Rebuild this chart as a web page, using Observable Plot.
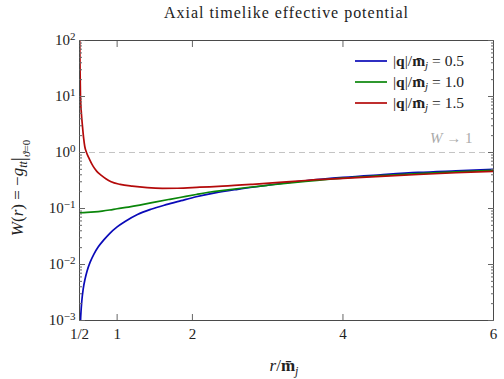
<!DOCTYPE html>
<html>
<head>
<meta charset="utf-8">
<script src="https://cdn.jsdelivr.net/npm/d3@7"></script>
<script src="https://cdn.jsdelivr.net/npm/@observablehq/plot@0.6"></script>
<style>
  body { margin: 0; background: #fff; }
  svg text { font-family: "Liberation Serif", "DejaVu Serif", serif; }
</style>
</head>
<body>
<div id="chart"></div>
<script>
// ---- data ----
const seriesNames = ["0.5", "1.0", "1.5"];
const seriesColors = ["#0a0ab8", "#0a860a", "#b40a0a"];

const rBlue = [0.507, 0.514, 0.52, 0.53, 0.55, 0.575, 0.6, 0.64, 0.69, 0.75, 0.82, 0.9, 1.0, 1.1, 1.27, 1.45, 1.65, 1.85, 2.05, 2.3, 2.6, 3.0, 3.5, 4.0, 4.5, 5.0, 5.5, 6.0];
const wBlue = [0.0005, 0.00101, 0.00145, 0.00218, 0.00371, 0.0056, 0.0076, 0.0109, 0.0152, 0.0207, 0.0272, 0.0357, 0.047, 0.058, 0.078, 0.097, 0.117, 0.138, 0.162, 0.19, 0.22, 0.26, 0.313, 0.36, 0.40, 0.44, 0.47, 0.50];

const rGreen = [0.5, 0.6, 0.7, 0.8, 0.9, 1.0, 1.15, 1.3, 1.5, 1.7, 1.85, 2.05, 2.24, 2.36, 2.7, 3.0, 3.5, 4.0, 4.5, 5.0, 5.5, 6.0];
const wGreen = [0.084, 0.085, 0.087, 0.090, 0.094, 0.099, 0.106, 0.115, 0.13, 0.146, 0.159, 0.178, 0.197, 0.207, 0.235, 0.26, 0.305, 0.35, 0.385, 0.42, 0.45, 0.48];

const rRed = [0.503, 0.507, 0.513, 0.525, 0.54, 0.555, 0.57, 0.593, 0.63, 0.68, 0.73, 0.79, 0.85, 0.92, 1.04, 1.2, 1.4, 1.6, 1.8, 2.1, 2.4, 2.8, 3.2, 3.5, 4.0, 4.5, 5.0, 5.5, 6.0];
const wRed = [100, 35, 10, 5, 2.9, 1.8, 1.28, 1.0, 0.77, 0.57, 0.46, 0.39, 0.34, 0.30, 0.27, 0.25, 0.235, 0.229, 0.23, 0.24, 0.25, 0.27, 0.295, 0.316, 0.345, 0.375, 0.405, 0.435, 0.46];

const xTickValues = [0.5, 1, 2, 4, 6];
const xTickLabels = ["1/2", "1", "2", "4", "6"];
const xInnerTicks = [1, 2, 4];
const yDecades = [1e-3, 1e-2, 1e-1, 1e0, 1e1, 1e2];
const yDecadeLabels = ["10^-3", "10^-2", "10^-1", "10^0", "10^1", "10^2"];
const asymptote = [1];
const annoX = [5.72], annoY = [1.8], annoText = ["W → 1"];

// ---- build ----
const rows = [];
[[rBlue, wBlue], [rGreen, wGreen], [rRed, wRed]].forEach(([rs, ws], i) => {
  rs.forEach((r, j) => rows.push({r, w: ws[j], s: seriesNames[i]}));
});
const yMinor = [];
for (let e = -3; e < 2; e++) for (let k = 2; k <= 9; k++) yMinor.push(k * Math.pow(10, e));
const blank = () => "";

const plot = Plot.plot({
  width: 504, height: 379,
  marginTop: 40, marginBottom: 59, marginLeft: 79, marginRight: 11,
  style: {fontFamily: '"Liberation Serif", "DejaVu Serif", serif', fontSize: "15px", background: "#fff"},
  x: {domain: [0.5, 6]},
  y: {type: "log", domain: [1e-3, 1e2]},
  color: {domain: seriesNames, range: seriesColors},
  marks: [
    Plot.ruleY(asymptote, {stroke: "#c4c4c4", strokeWidth: 1.2, strokeDasharray: "6,4"}),
    Plot.text(annoText, {x: annoX, y: annoY, text: d => d, textAnchor: "end", fill: "#aaa", fontSize: 15}),
    Plot.line(rows, {x: "r", y: "w", z: "s", stroke: "s", strokeWidth: 1.7, curve: "monotone-x", clip: true}),
    Plot.frame({stroke: "#4a4a4a", strokeWidth: 1}),
    // tick labels
    Plot.axisY(yDecades, {anchor: "left", tickSize: 0, tickPadding: 4, label: null, fill: "#222",
      tickFormat: d => yDecadeLabels[yDecades.indexOf(d)]}),
    Plot.axisX(xTickValues, {anchor: "bottom", tickSize: 0, tickPadding: 8, label: null, fill: "#222",
      tickFormat: d => xTickLabels[xTickValues.indexOf(d)]}),
    // inward ticks
    Plot.axisY(yDecades, {anchor: "left", tickSize: -6, tickFormat: blank, label: null, stroke: "#666"}),
    Plot.axisY(yMinor, {anchor: "left", tickSize: -3, tickFormat: blank, label: null, stroke: "#666"}),
    Plot.axisY(yDecades, {anchor: "right", tickSize: -6, tickFormat: blank, label: null, stroke: "#666"}),
    Plot.axisY(yMinor, {anchor: "right", tickSize: -3, tickFormat: blank, label: null, stroke: "#666"}),
    Plot.axisX(xInnerTicks, {anchor: "bottom", tickSize: -6, tickFormat: blank, label: null, stroke: "#666"}),
    Plot.axisX(xInnerTicks, {anchor: "top", tickSize: -6, tickFormat: blank, label: null, stroke: "#666"})
  ]
});

document.getElementById("chart").appendChild(plot);
const svg = d3.select(plot);

// superscripts on decade labels, italic W in annotation
svg.selectAll("text").each(function() {
  const t = this.textContent;
  const el = d3.select(this);
  if (t.includes("^")) {
    const [base, exp] = t.split("^");
    el.text(base);
    el.append("tspan").attr("dy", "-0.45em").attr("font-size", "11px").text(exp.replace("-", "−"));
  } else if (t === annoText[0]) {
    el.text("");
    el.append("tspan").attr("font-style", "italic").text("W");
    el.append("tspan").text(" → 1");
  }
});

// title
svg.append("text").attr("x", 286).attr("y", 18).attr("text-anchor", "middle")
  .attr("font-size", "16px").attr("fill", "#222")
  .attr("textLength", 244).attr("lengthAdjust", "spacing")
  .text("Axial timelike effective potential");

// x label
svg.append("text").attr("x", 284).attr("y", 371).attr("text-anchor", "middle")
  .attr("font-size", "17px").attr("fill", "#222")
  .html('<tspan font-style="italic">r</tspan>/<tspan font-weight="bold">m\u0304</tspan><tspan font-style="italic" font-size="12px" dy="4">j</tspan>');

// y label
svg.append("text").attr("transform", "translate(23,188) rotate(-90)").attr("text-anchor", "middle")
  .attr("font-size", "17px").attr("fill", "#222")
  .html('<tspan font-style="italic">W</tspan>(<tspan font-style="italic">r</tspan>) = −<tspan font-style="italic">g</tspan><tspan font-style="italic" font-size="12px" dy="4">tt</tspan><tspan font-size="21px" dy="-2">|</tspan><tspan font-style="italic" font-size="11px" dy="5">ϑ</tspan><tspan font-size="11px">=0</tspan>');

// legend
const lg = svg.append("g");
seriesNames.forEach((name, i) => {
  const y = 61 + i * 21;
  lg.append("line").attr("x1", 355).attr("x2", 387).attr("y1", y).attr("y2", y)
    .attr("stroke", seriesColors[i]).attr("stroke-width", 1.7);
  lg.append("text").attr("x", 393).attr("y", y + 5).attr("text-anchor", "start")
    .attr("font-size", "15.5px").attr("fill", "#222")
    .html('|<tspan font-weight="bold">q</tspan>|/<tspan font-weight="bold">m\u0304</tspan><tspan font-style="italic" font-size="11px" dy="3">j</tspan><tspan dy="-3"> = ' + name + '</tspan>');
});
</script>
</body>
</html>
